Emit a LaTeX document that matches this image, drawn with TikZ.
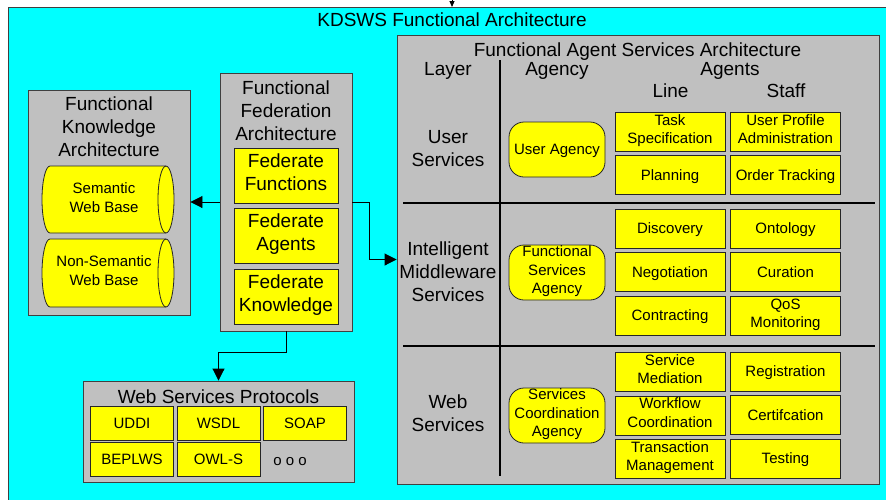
\documentclass[tikz,border=0pt]{standalone}
\usepackage{fontspec}
\setmainfont{Liberation Sans}
\usetikzlibrary{arrows.meta}
\definecolor{sky}{HTML}{00FFFF}
\definecolor{panel}{HTML}{C0C0C0}
\definecolor{lemon}{HTML}{FFFF00}
\definecolor{edge}{HTML}{404040}
\newcommand\bigfont{\fontsize{19}{23}\selectfont}
\newcommand\smallfont{\fontsize{15}{18.5}\selectfont}
% struts that sit the text block a little low in its box
\newcommand\headstrut{\rule{0pt}{\dimexpr0.7\baselineskip+3.5pt\relax}}
\newcommand\footstrut{\rule[-0.3\baselineskip]{0pt}{0pt}}

\begin{document}
\begin{tikzpicture}[x=1pt,y=-1pt,
  txt/.style={align=center, inner sep=0pt,
    execute at begin node=\headstrut, execute at end node=\footstrut},
  bigtxt/.style={txt, font=\bigfont},
  smalltxt/.style={txt, font=\smallfont},
  panelbox/.style={draw=edge, fill=panel, line width=0.9pt, inner sep=0pt},
  yellowbox/.style={draw=black!85, fill=lemon, line width=0.8pt},
  cell/.style={smalltxt, yellowbox, minimum width=110pt, minimum height=39pt},
  fedcell/.style={bigtxt, yellowbox, minimum width=104pt, minimum height=55pt},
  protocell/.style={smalltxt, yellowbox, minimum width=83pt, minimum height=34pt},
  agencybox/.style={smalltxt, yellowbox, rounded corners=15pt,
    minimum width=96pt, minimum height=55pt},
  divider/.style={line width=2.4pt, black},
  link/.style={line width=0.9pt, -{Triangle[length=12pt,width=12pt]}},
]
\useasboundingbox (0,0) rectangle (886,499);

% outer frame
\node[draw=edge, fill=sky, line width=0.9pt, minimum width=890pt, minimum height=500pt,
      anchor=north west, inner sep=0pt] (kdsws) at (8,7) {};
\node[bigtxt] (kdswstitle) at (452,20.5) {KDSWS Functional Architecture};
\coordinate (topin) at (452,-8);
\draw[line width=0.9pt, -{Triangle[length=6pt,width=5pt]}] (topin) -- (topin |- kdsws.north);

% knowledge architecture
\node[panelbox, minimum width=162pt, minimum height=225pt] (fka) at (109,202.5) {};
\node[bigtxt] (fkatitle) at (109,130) {Functional\\Knowledge\\Architecture};
\filldraw[yellowbox] (50,166) -- (166,166)
  arc[start angle=90,end angle=-90,x radius=8pt,y radius=33.5pt] -- (50,233)
  arc[start angle=270,end angle=90,x radius=8pt,y radius=33.5pt] -- cycle;
\draw[black!85, line width=0.8pt] (166,166) arc[start angle=90,end angle=270,x radius=8pt,y radius=33.5pt];
\node[smalltxt] (semweb) at (104,200.5) {Semantic\\Web Base};
\filldraw[yellowbox] (50,239) -- (166,239)
  arc[start angle=90,end angle=-90,x radius=8pt,y radius=34pt] -- (50,307)
  arc[start angle=270,end angle=90,x radius=8pt,y radius=34pt] -- cycle;
\draw[black!85, line width=0.8pt] (166,239) arc[start angle=90,end angle=270,x radius=8pt,y radius=34pt];
\node[smalltxt] (nonsemweb) at (104,273.5) {Non-Semantic\\Web Base};

% federation architecture
\node[panelbox, minimum width=132pt, minimum height=258pt] (ffa) at (286,202) {};
\node[bigtxt] (ffatitle) at (286,114) {Functional\\Federation\\Architecture};
\node[fedcell] (fedfun) at (286,175.5) {Federate\\Functions};
\node[fedcell] (fedag) at (286,236) {Federate\\Agents};
\node[fedcell] (fedkn) at (286,296.5) {Federate\\Knowledge};

% web services protocols
\node[panelbox, minimum width=271pt, minimum height=101pt] (wsp) at (218.5,431.5) {};
\node[bigtxt] (wsptitle) at (218.5,397) {Web Services Protocols};
\node[protocell] (uddi) at (132,423) {UDDI};
\node[protocell] (wsdl) at (218.5,423) {WSDL};
\node[protocell] (soap) at (305,423) {SOAP};
\node[protocell] (beplws) at (132,459.5) {BEPLWS};
\node[protocell] (owls) at (218.5,459.5) {OWL-S};
\node[smalltxt] (more) at (290,460) {o o o};

% agent services architecture
\node[panelbox, minimum width=482pt, minimum height=449pt] (fas) at (638,259.5) {};
\node[bigtxt] (fastitle) at (637.5,50) {Functional Agent Services Architecture};
\node[bigtxt] (hlayer) at (448,69.5) {Layer};
\node[bigtxt] (hagency) at (557,69.5) {Agency};
\node[bigtxt] (hagents) at (730,69.5) {Agents};
\node[bigtxt] (hline) at (670.5,91) {Line};
\node[bigtxt] (hstaff) at (786,91) {Staff};
\coordinate (vtop) at (500,60);
\coordinate (vbot) at (500,476);
\coordinate (h1l) at (403,203);
\coordinate (h1r) at (875,203);
\coordinate (h2l) at (403,346);
\coordinate (h2r) at (875,346);
\draw[divider] (vtop) -- (vbot);
\draw[divider] (h1l) -- (h1r);
\draw[divider] (h2l) -- (h2r);

% user services layer
\node[bigtxt] (luser) at (448,152) {User\\Services};
\node[agencybox] (auser) at (557,149.5) {User Agency};
\node[cell] (task) at (670,132) {Task\\Specification};
\node[cell] (profile) at (785.5,132) {User Profile\\Administration};
\node[cell] (planning) at (670,175) {Planning};
\node[cell] (order) at (785.5,175) {Order Tracking};

% middleware layer
\node[bigtxt] (lmid) at (448,275) {Intelligent\\Middleware\\Services};
\node[agencybox] (amid) at (557,272.5) {Functional\\Services\\Agency};
\node[cell] (discovery) at (670,228.5) {Discovery};
\node[cell] (ontology) at (785.5,228.5) {Ontology};
\node[cell] (negotiation) at (670,272) {Negotiation};
\node[cell] (curation) at (785.5,272) {Curation};
\node[cell] (contracting) at (670,315.5) {Contracting};
\node[cell] (qos) at (785.5,316) {QoS\\Monitoring};

% web services layer
\node[bigtxt] (lweb) at (448,417) {Web\\Services};
\node[agencybox] (aweb) at (557,415.5) {Services\\Coordination\\Agency};
\node[cell] (mediation) at (670,372) {Service\\Mediation};
\node[cell] (registration) at (785.5,371.5) {Registration};
\node[cell] (workflow) at (670,415.5) {Workflow\\Coordination};
\node[cell] (certification) at (785.5,415) {Certifcation};
\node[cell] (transaction) at (670,459) {Transaction\\Management};
\node[cell] (testing) at (785.5,458.5) {Testing};

% connectors
\draw[link] (ffa.west) -- (fka.east |- ffa.west);
\draw[link] (ffa.east) -- ++(17,0) |- (fas.west);
\draw[link] (ffa.south) -- ++(0,21) -| (wsp.north);
\end{tikzpicture}
\end{document}
